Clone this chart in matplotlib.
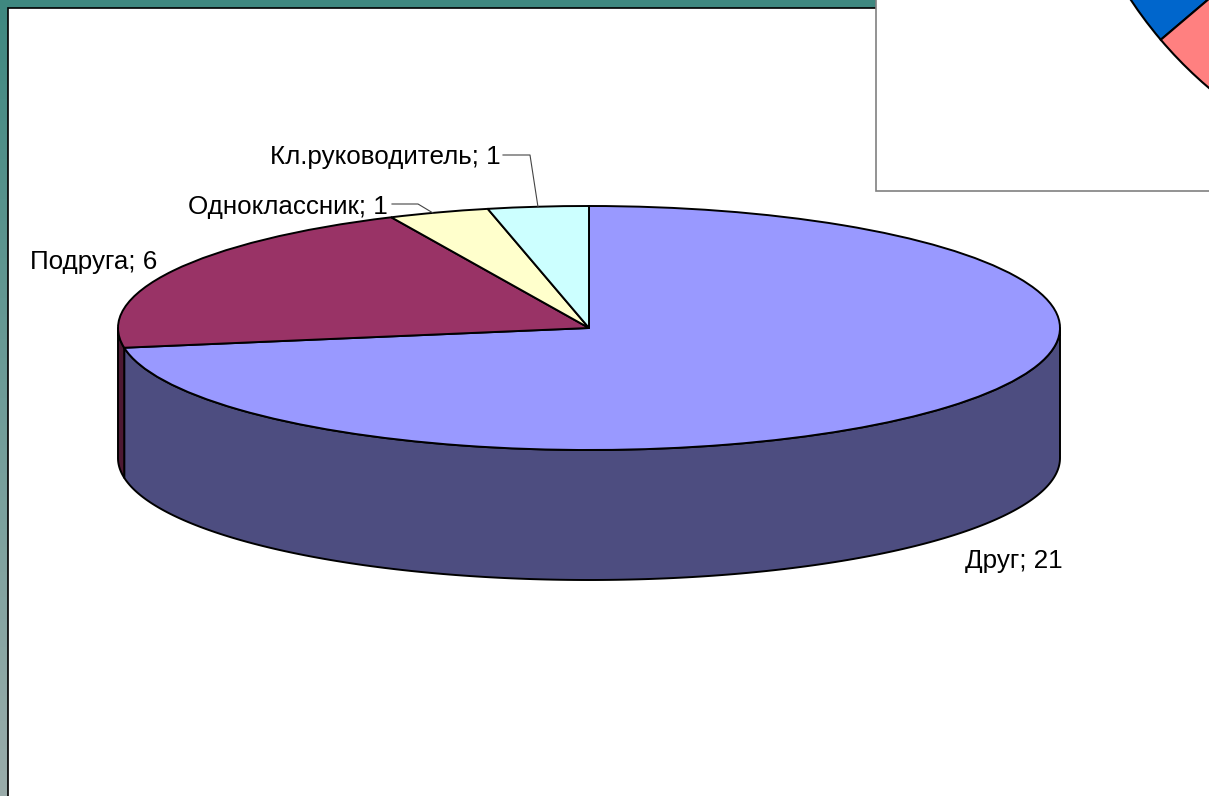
import matplotlib
matplotlib.use('Agg')
import matplotlib.pyplot as plt
import numpy as np
from matplotlib.colors import LinearSegmentedColormap
from matplotlib.patches import Polygon, Rectangle

plt.rcParams['font.family'] = ['Liberation Sans', 'DejaVu Sans']

W, H = 1209, 796

# main pie, values as on the slide
categories = ['Друг', 'Подруга', 'Одноклассник', 'Кл.руководитель']
values = [21, 6, 1, 1]
top_colors = ['#9999ff', '#993366', '#ffffcc', '#ccffff']
side_colors = ['#4d4d80', '#4d1933', '#808066', '#668080']

# part of the other chart that overlaps the slide, share of its pie
inset_shares = [36.2, 63.8]
inset_colors = ['#0066cc', '#ff8080']

# pie geometry in pixels
cx, cy, rx, ry, depth = 589, 328, 471, 122, 130

label_pos = [(1014, 561), (94, 262), (288, 207), (385, 157)]
leaders = [None, None,
           [(392, 204), (418, 204), (433, 213)],
           [(503, 155), (530, 155), (538, 207)]]

fig = plt.figure(figsize=(W / 100, H / 100), dpi=100)

# slide background: gradient strip with a black inner edge
bg = fig.add_axes([0, 0, 1, 1], zorder=0)
grad = LinearSegmentedColormap.from_list('slide', ['#3f8880', '#6f9c98', '#9aacaa'])
bg.imshow(np.linspace(0, 1, 256).reshape(-1, 1), cmap=grad, aspect='auto',
          extent=(0, W, H, 0))
bg.add_patch(Rectangle((8, 8), W, H, facecolor='white', edgecolor='black', linewidth=1.2))
bg.set_xlim(0, W)
bg.set_ylim(H, 0)
bg.axis('off')

# data units of this axes are pie radii, so the circle turns into an ellipse
ax = fig.add_axes([0, 0, 1, 1], zorder=1)
ax.patch.set_alpha(0)

fracs = np.array(values) / sum(values)
ends = np.cumsum(fracs) * 360
starts = ends - fracs * 360
for a0, a1, col in zip(starts, ends, side_colors):
    # only the front half of the rim is visible
    lo, hi = max(a0, 90), min(a1, 270)
    if lo >= hi:
        continue
    t = np.radians(np.linspace(lo, hi, 200))
    x, y = np.sin(t), np.cos(t)
    d = depth / ry
    pts = np.r_[np.c_[x, y], np.c_[x[::-1], y[::-1] - d]]
    ax.add_patch(Polygon(pts, closed=True, facecolor=col, edgecolor='black',
                         linewidth=1.4, joinstyle='round'))

ax.pie(values, colors=top_colors, startangle=90, counterclock=False, radius=1,
       wedgeprops={'edgecolor': 'black', 'linewidth': 1.4})
ax.set_aspect('auto')
ax.set_xlim(-cx / rx, (W - cx) / rx)
ax.set_ylim((cy - H) / ry, cy / ry)
ax.axis('off')

# labels, leader lines and the overlapping chart in pixel coordinates (y up)
top = fig.add_axes([0, 0, 1, 1], zorder=2)
top.patch.set_alpha(0)

for name, val, (px, py), lead in zip(categories, values, label_pos, leaders):
    top.text(px, H - py, f'{name}; {val}', ha='center', va='center',
             fontsize=18.7, color='black')
    if lead:
        top.plot([p[0] for p in lead], [H - p[1] for p in lead],
                 color='#444444', linewidth=0.8)

box = Rectangle((876, H - 191), W, 200, facecolor='white', edgecolor='#808080',
                linewidth=1.2, zorder=3)
top.add_patch(box)
wedges, _ = top.pie(inset_shares, colors=inset_colors, startangle=90, counterclock=True,
                    radius=420, center=(1481, H + 232), frame=True,
                    wedgeprops={'edgecolor': 'black', 'linewidth': 1.5, 'zorder': 4})
for w in wedges:
    w.set_clip_path(box)
top.set_aspect('auto')
top.set_xlim(0, W)
top.set_ylim(0, H)
top.axis('off')

fig.savefig('out.png', dpi=100)
